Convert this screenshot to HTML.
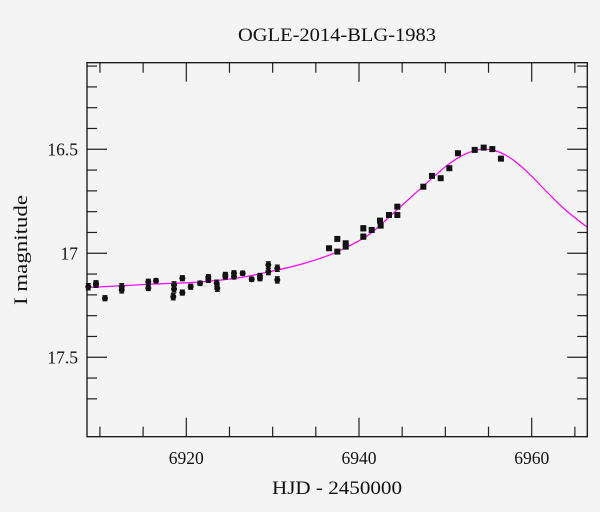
<!DOCTYPE html>
<html><head><meta charset="utf-8"><style>
html,body{margin:0;padding:0;background:#f4f4f4;}
svg{display:block;font-family:"Liberation Serif",serif;}
</style></head><body>
<svg id="chart" width="600" height="512" viewBox="0 0 600 512" xmlns="http://www.w3.org/2000/svg">
<rect width="600" height="512" fill="#f4f4f4"/>
<text x="337" y="41" font-size="18.5" text-anchor="middle" fill="#111" textLength="198" lengthAdjust="spacingAndGlyphs">OGLE-2014-BLG-1983</text>
<text x="337" y="494" font-size="18.5" text-anchor="middle" fill="#111" textLength="130" lengthAdjust="spacingAndGlyphs">HJD - 2450000</text>
<text transform="translate(27,250) rotate(-90)" font-size="18.5" text-anchor="middle" fill="#111" textLength="110" lengthAdjust="spacingAndGlyphs">I magnitude</text>
<g id="axes"></g>
<g id="model"></g>
<g id="points"></g>
<rect x="87" y="62.7" width="500.3" height="374" fill="none" stroke="#111" stroke-width="1.3"/>
</svg>
<script>
const obsDays=[6908.65,6909.54,6909.54,6910.58,6912.52,6912.52,6915.60,6915.60,6916.49,6918.49,6918.58,6918.58,6919.54,6919.54,6920.51,6921.59,6922.55,6922.55,6923.52,6923.59,6924.52,6924.52,6925.52,6925.52,6926.53,6927.57,6928.53,6928.53,6929.5,6929.5,6930.54,6930.54,
6936.53,6937.49,6937.49,6938.46,6938.46,6940.5,6940.5,6941.47,6942.43,6942.51,6943.47,6944.44,6944.44,6947.45,6948.45,6949.46,6950.46,6951.46,6953.40,6954.44,6955.44,6956.44];
const obsMags=[17.161,17.144,17.152,17.216,17.161,17.176,17.167,17.137,17.132,17.209,17.172,17.152,17.120,17.189,17.161,17.144,17.115,17.128,17.144,17.168,17.104,17.112,17.096,17.112,17.096,17.125,17.109,17.120,17.056,17.088,17.072,17.128,
16.976,16.931,16.992,16.952,16.968,16.880,16.920,16.888,16.843,16.867,16.816,16.776,16.816,16.680,16.628,16.639,16.591,16.519,16.503,16.492,16.499,16.545];
const obsErr=[0.015,0.012,0.012,0.012,0.015,0.015,0.012,0.012,0.010,0.015,0.015,0.015,0.012,0.012,0.012,0.010,0.012,0.012,0.015,0.015,0.012,0.012,0.012,0.012,0.010,0.010,0.012,0.012,0.015,0.015,0.015,0.015,
0.008,0.008,0.008,0.008,0.008,0.012,0.012,0.010,0.010,0.010,0.010,0.008,0.008,0.006,0.006,0.006,0.006,0.005,0.005,0.005,0.005,0.005];
const modelDays=[6908.5,6915.8,6921.6,6926.2,6929.7,6933.2,6936.6,6939.0,6941.3,6943.6,6945.9,6949.8,6951.7,6953.4,6954.6,6955.8,6957.0,6958.5,6960.0,6962.0,6964.0,6966.4];
const modelMags=[17.165,17.149,17.138,17.117,17.088,17.054,17.008,16.962,16.906,16.822,16.735,16.591,16.536,16.506,16.500,16.507,16.528,16.572,16.630,16.715,16.795,16.874];
const xMajor=["6920","6940","6960"];
const yMajor=["16.5","17","17.5"];

const X0=87,X1=587.3,Y0=62.7,Y1=436.7;
const dMin=6908.5,dMax=6966.44,mTop=16.0837,mBot=17.882;
const xs=d=>X0+(d-dMin)/(dMax-dMin)*(X1-X0);
const ys=m=>Y0+(m-mTop)/(mBot-mTop)*(Y1-Y0);
const NS="http://www.w3.org/2000/svg";
function mk(tag,attrs,parent){const e=document.createElementNS(NS,tag);for(const k in attrs)e.setAttribute(k,attrs[k]);parent.appendChild(e);return e;}
const axes=document.getElementById('axes');
for(let d=6910;d<=6965;d+=5){
  const major=d%20===0;const L=major?19:10;const x=xs(d);
  const t1=mk('line',{x1:x,x2:x,y1:Y1,y2:Y1-L,stroke:'#222','stroke-width':1.2},axes);
  
  
  const t2=mk('line',{x1:x,x2:x,y1:Y0,y2:Y0+L,stroke:'#222','stroke-width':1.2},axes);
  
  
}
xMajor.forEach(s=>{
  const t=mk('text',{x:xs(+s),y:464,'font-size':17.5,'text-anchor':'middle',fill:'#111',textLength:35,lengthAdjust:'spacingAndGlyphs'},axes);
  t.textContent=s;
  
  
});
for(let i=1;i<=17;i++){
  const m=16+i*0.1;const major=(i%5===0);const L=major?20:10;const y=ys(m);
  const t1=mk('line',{x1:X0,x2:X0+L,y1:y,y2:y,stroke:'#222','stroke-width':1.2},axes);
  
  
  const t2=mk('line',{x1:X1,x2:X1-L,y1:y,y2:y,stroke:'#222','stroke-width':1.2},axes);
  
  
}
yMajor.forEach(s=>{
  const t=mk('text',{x:78,y:ys(+s)+6,'font-size':17.5,'text-anchor':'end',fill:'#111'},axes);
  t.textContent=s;
  
  
});
const pts=modelDays.map((d,i)=>[xs(d),ys(modelMags[i])]);
let p='M'+pts[0][0]+','+pts[0][1];
for(let i=0;i<pts.length-1;i++){
  const a=pts[i-1]||pts[i],b=pts[i],c=pts[i+1],e=pts[i+2]||c;
  const c1=[b[0]+(c[0]-a[0])/6,b[1]+(c[1]-a[1])/6],c2=[c[0]-(e[0]-b[0])/6,c[1]-(e[1]-b[1])/6];
  p+=` C${c1[0]},${c1[1]} ${c2[0]},${c2[1]} ${c[0]},${c[1]}`;
}
const model=document.getElementById('model');
const ml=mk('path',{d:p,fill:'none',stroke:'#ff00ff','stroke-width':1.2},model);


const pg=document.getElementById('points');
obsDays.forEach((d,i)=>{
  const x=xs(d),y=ys(obsMags[i]),e=ys(obsMags[i]+obsErr[i])-y;
  const g=mk('g',{},pg);
  
  
  mk('line',{x1:x,x2:x,y1:y-e,y2:y+e,stroke:'#111','stroke-width':1.2},g);
  mk('line',{x1:x-2.5,x2:x+2.5,y1:y-e,y2:y-e,stroke:'#111','stroke-width':1.2},g);
  mk('line',{x1:x-2.5,x2:x+2.5,y1:y+e,y2:y+e,stroke:'#111','stroke-width':1.2},g);
  if(d>6935) mk('rect',{x:x-3,y:y-3,width:6,height:6,fill:'#111'},g);
  else mk('circle',{cx:x,cy:y,r:3,fill:'#111'},g);
});
</script>
</body></html>
